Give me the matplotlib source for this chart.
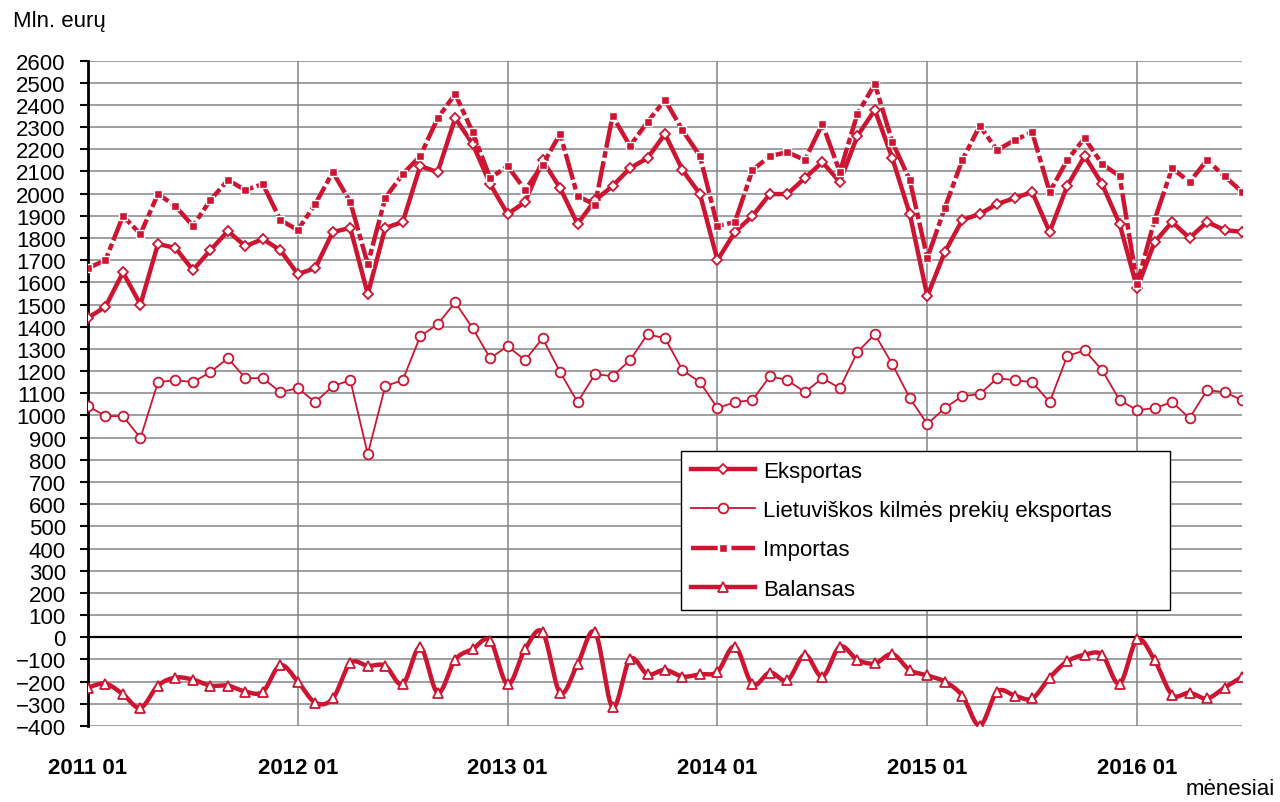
import numpy as np
import matplotlib.pyplot as plt

# monthly data 2011 01 .. 2016 07, mln. eurų
months = np.arange(67)
year_ticks = [0, 12, 24, 36, 48, 60]
year_labels = ["2011 01", "2012 01", "2013 01", "2014 01", "2015 01", "2016 01"]

eksportas = [1440, 1490, 1645, 1500, 1773, 1755, 1655, 1745, 1831, 1763, 1795, 1745,
             1637, 1664, 1827, 1845, 1547, 1845, 1872, 2124, 2097, 2340, 2224, 2043,
             1908, 1962, 2150, 2025, 1863, 1970, 2034, 2115, 2160, 2269, 2106, 1998,
             1700, 1827, 1899, 1998, 1998, 2070, 2142, 2052, 2260, 2377, 2160, 1908,
             1538, 1736, 1881, 1908, 1953, 1980, 2007, 1827, 2034, 2169, 2043, 1863,
             1574, 1781, 1872, 1800, 1872, 1836, 1827]

lietuviskos = [1042, 997, 997, 898, 1150, 1159, 1150, 1195, 1258, 1168, 1168, 1105,
               1123, 1060, 1132, 1159, 826, 1132, 1159, 1357, 1411, 1510, 1393, 1258,
               1312, 1249, 1348, 1195, 1060, 1186, 1177, 1249, 1366, 1348, 1204, 1150,
               1033, 1060, 1069, 1177, 1159, 1105, 1168, 1123, 1285, 1366, 1231, 1078,
               961, 1033, 1087, 1096, 1168, 1159, 1150, 1060, 1267, 1294, 1204, 1069,
               1024, 1033, 1060, 988, 1114, 1105, 1069]

importas = [1664, 1700, 1899, 1818, 1998, 1944, 1854, 1971, 2061, 2016, 2043, 1881,
            1836, 1953, 2097, 1962, 1682, 1980, 2088, 2169, 2340, 2449, 2277, 2070,
            2124, 2016, 2130, 2269, 1989, 1950, 2350, 2215, 2323, 2422, 2286, 2169,
            1854, 1872, 2106, 2169, 2187, 2151, 2314, 2097, 2359, 2494, 2233, 2061,
            1709, 1935, 2151, 2305, 2196, 2241, 2277, 2007, 2151, 2250, 2133, 2079,
            1592, 1881, 2115, 2052, 2151, 2079, 2007]

balansas = [-227, -209, -257, -318, -218, -182, -191, -218, -218, -245, -245, -126,
            -200, -295, -276, -117, -129, -129, -212, -45, -250, -101, -53, -15,
            -212, -53, 23, -250, -121, 23, -315, -98, -167, -147, -177, -167,
            -155, -42, -212, -159, -194, -79, -177, -42, -101, -118, -76, -148,
            -172, -200, -263, -398, -245, -263, -276, -182, -109, -79, -79, -209,
            -10, -103, -259, -250, -276, -227, -179]

red = "#CD1531"


def smooth(x, y, n=12):
    # Catmull-Rom curve through the points (like a smoothed line)
    x = np.asarray(x, float)
    y = np.asarray(y, float)
    px = np.concatenate([[x[0]], x, [x[-1]]])
    py = np.concatenate([[y[0]], y, [y[-1]]])
    t = np.linspace(0, 1, n, endpoint=False)
    xs, ys = [], []
    for i in range(1, len(px) - 2):
        for arr, out in ((px, xs), (py, ys)):
            p0, p1, p2, p3 = arr[i - 1], arr[i], arr[i + 1], arr[i + 2]
            out.extend(0.5 * (2 * p1 + (-p0 + p2) * t
                              + (2 * p0 - 5 * p1 + 4 * p2 - p3) * t ** 2
                              + (-p0 + 3 * p1 - 3 * p2 + p3) * t ** 3))
    xs.append(x[-1])
    ys.append(y[-1])
    return np.array(xs), np.array(ys)


plt.rcParams["font.family"] = ["Liberation Sans", "DejaVu Sans"]
fs = 16

fig = plt.figure(figsize=(12.8, 8.03), dpi=100)
ax = fig.add_axes([88 / 1280, 1 - 727 / 803, (1242 - 88) / 1280, (727 - 61.5) / 803])

ax.set_xlim(0, 66)
ax.set_ylim(-400, 2600)
ax.set_yticks(np.arange(-400, 2601, 100))
ax.set_xticks(year_ticks)
ax.set_xticklabels(year_labels, fontweight="bold")
ax.tick_params(axis="y", labelsize=fs, length=6, width=1.5, pad=10)
ax.tick_params(axis="x", labelsize=fs, length=0, pad=22)

ax.grid(True, color="#858585", linewidth=1.1)
ax.set_axisbelow(True)
for s in ["top", "right", "bottom"]:
    ax.spines[s].set_visible(False)
ax.spines["left"].set_linewidth(2)
ax.axhline(0, color="black", linewidth=1.6, zorder=1.5)

ax.plot(months, eksportas, color=red, lw=3.2, marker="D", ms=5.5,
        mfc="white", mec=red, mew=1.3, label="Eksportas", zorder=3)
ax.plot(months, lietuviskos, color=red, lw=1.3, marker="o", ms=7,
        mfc="white", mec=red, mew=1.3, label="Lietuviškos kilmės prekių eksportas", zorder=3)
ax.plot(months, importas, color=red, lw=3.2, dashes=(6, 0.8, 1.5, 0.8), marker="s", ms=6,
        mfc=red, mec="white", mew=1.0, label="Importas", zorder=3)

sx, sy = smooth(months, balansas)
ax.plot(sx, sy, color=red, lw=3.2, zorder=3)
ax.plot(months, balansas, color=red, lw=0, marker="^", ms=7.5,
        mfc="white", mec=red, mew=1.3, zorder=3.1)
# legend proxy for balance
ax.plot([], [], color=red, lw=3.2, marker="^", ms=7.5, mfc="white", mec=red,
        mew=1.3, label="Balansas")

leg = ax.legend(loc="upper left",
                bbox_to_anchor=(681 / 1280, 1 - 613 / 803, (1170 - 681) / 1280, 161 / 803),
                bbox_transform=fig.transFigure, mode="expand", borderaxespad=0,
                fontsize=fs, fancybox=False, framealpha=1, edgecolor="black",
                handlelength=2.9, labelspacing=0.82, borderpad=0.45, handletextpad=0.35)
leg.get_frame().set_linewidth(1.0)
leg.set_zorder(5)

fig.text(13 / 1280, 1 - 22 / 803, "Mln. eurų", fontsize=fs, va="center", ha="left")
fig.text(1275 / 1280, 1 - 790 / 803, "mėnesiai", fontsize=fs, va="center", ha="right")

fig.savefig("out.png", dpi=100)
